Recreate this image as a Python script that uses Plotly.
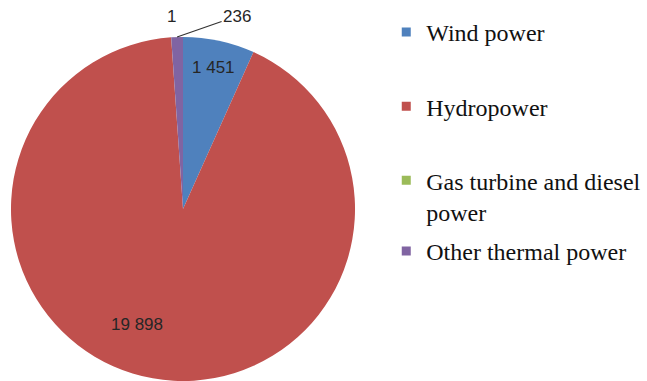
import math
import plotly.graph_objects as go

labels = ["Wind power", "Hydropower", "Gas turbine and diesel power", "Other thermal power"]
legend_labels = ["Wind power", "Hydropower", "Gas turbine and diesel<br>power", "Other thermal power"]
values = [1451, 19898, 1, 236]
colors = ["#4F81BD", "#C0504D", "#9BBB59", "#8064A2"]
value_text = ["1 451", "19 898", "1", "236"]

W, H = 647, 381
dom_x = [10 / W, 356 / W]
dom_y = [0.0, 0.903]

fig = go.Figure()
fig.add_trace(go.Pie(
    labels=labels, values=values, sort=False, direction="clockwise", rotation=0,
    marker=dict(colors=colors, line=dict(width=0)),
    textinfo="none", textposition="none",
    showlegend=False, hoverinfo="label+value",
    domain=dict(x=dom_x, y=dom_y),
))

# pie geometry (pixels) derived from the domain
cx = (dom_x[0] + dom_x[1]) / 2 * W
cy = (1 - (dom_y[0] + dom_y[1]) / 2) * H
R = min((dom_x[1] - dom_x[0]) * W, (dom_y[1] - dom_y[0]) * H) / 2
total = sum(values)

def slice_point(i, frac, shift=0.0):
    start = sum(values[:i])
    ang = (start + values[i] / 2) / total * 2 * math.pi + shift
    px = cx + frac * R * math.sin(ang)
    py = cy - frac * R * math.cos(ang)
    return px / W, 1 - py / H

lab_font = dict(family="Liberation Sans", size=17, color="#262626")
annotations = []
# inside labels
for i, frac, shift in [(0, 0.84, 0.0), (1, 0.72, 0.2)]:
    x, y = slice_point(i, frac, shift)
    annotations.append(dict(x=x, y=y, xref="paper", yref="paper", text=value_text[i],
                            xanchor="center", yanchor="middle",
                            showarrow=False, font=lab_font))
# outside label for gas turbine (no leader)
x, y = slice_point(2, 1.0)
annotations.append(dict(x=x, y=y, xref="paper", yref="paper", text=value_text[2],
                        xanchor="center", yanchor="middle",
                        showarrow=False, yshift=21, font=lab_font))
# outside label for other thermal with leader line
x, y = slice_point(3, 1.0)
annotations.append(dict(x=x, y=y, xref="paper", yref="paper", text=value_text[3],
                        showarrow=True, arrowhead=0, arrowwidth=1.2, arrowcolor="#333333",
                        ax=60, ay=-21, font=lab_font))

legend_y = [0.974, 0.779, 0.585, 0.399]
layout_legends = {}
for i, (lab, col) in enumerate(zip(legend_labels, colors)):
    name = "legend" if i == 0 else f"legend{i+1}"
    fig.add_trace(go.Scatter(
        x=[None], y=[None], mode="markers", name=lab,
        marker=dict(symbol="square", size=9, color=col),
        legend=name, showlegend=True,
    ))
    layout_legends[name] = dict(
        x=0.597, y=legend_y[i], xanchor="left", yanchor="top",
        font=dict(family="Liberation Serif", size=24, color="#111111"),
        bgcolor="rgba(0,0,0,0)", itemwidth=30, valign="top",
    )

fig.update_layout(
    width=W, height=H, margin=dict(l=0, r=0, t=0, b=0),
    paper_bgcolor="white", plot_bgcolor="white",
    xaxis=dict(visible=False), yaxis=dict(visible=False),
    annotations=annotations,
    **layout_legends,
)
fig.write_html("out.html")
